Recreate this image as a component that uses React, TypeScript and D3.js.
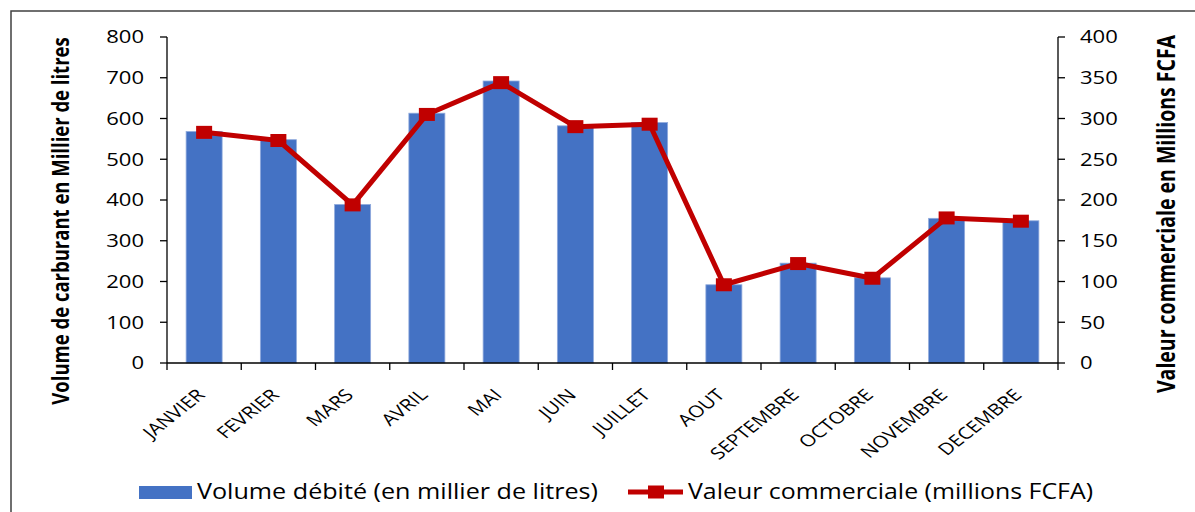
import React, { useEffect } from 'react';
import * as d3 from 'd3';

// months on the x axis
const months = [
  'JANVIER', 'FEVRIER', 'MARS', 'AVRIL', 'MAI', 'JUIN',
  'JUILLET', 'AOUT', 'SEPTEMBRE', 'OCTOBRE', 'NOVEMBRE', 'DECEMBRE',
];

// volume débité (milliers de litres), left axis
const volume = [568, 548, 389, 613, 692, 582, 590, 192, 245, 209, 355, 349];

// valeur commerciale (millions FCFA), right axis
const valeur = [283, 273, 194, 305, 344, 290, 293, 96, 122, 104, 178, 174];

const leftTicks = [0, 100, 200, 300, 400, 500, 600, 700, 800];
const rightTicks = [0, 50, 100, 150, 200, 250, 300, 350, 400];

const W = 1195;
const H = 512;
const FONT = "'Open Sans', 'Liberation Sans', sans-serif";
const BLUE = '#4472C4';
const RED = '#C00000';
// the source picture is a bit wider than tall, so text is stretched sideways
const SX = 1.26;

export default function App() {
  useEffect(() => {
    document.body.style.margin = '0';
  }, []);

  const plot = { left: 167, right: 1058, top: 37, bottom: 363 };

  const x = d3.scaleBand<string>()
    .domain(months)
    .range([plot.left, plot.right])
    .paddingInner(0.515)
    .paddingOuter(0.2575);

  const yL = d3.scaleLinear().domain([0, 800]).range([plot.bottom, plot.top]);
  const yR = d3.scaleLinear().domain([0, 400]).range([plot.bottom, plot.top]);

  const step = (plot.right - plot.left) / months.length;
  const cx = (m: string) => (x(m) as number) + x.bandwidth() / 2;

  const line = d3.line<number>()
    .x((_, i) => cx(months[i]))
    .y(d => yR(d));

  const mw = 16, mh = 13;

  return (
    <svg width={W} height={H} style={{ display: 'block', background: '#fff' }}>
      {/* outer frame */}
      <rect x={11} y={11} width={1300} height={600} fill="none" stroke="#404040" strokeWidth={1.5} />

      {/* bars */}
      {months.map((m, i) => (
        <rect
          key={m}
          x={x(m)}
          y={yL(volume[i])}
          width={x.bandwidth()}
          height={plot.bottom - yL(volume[i])}
          fill={BLUE}
          stroke="#8FAADC"
          strokeWidth={0.8}
        />
      ))}

      {/* left axis */}
      <line x1={plot.left} x2={plot.left} y1={plot.top} y2={plot.bottom} stroke="#000" strokeWidth={1.3} />
      {leftTicks.map(t => (
        <g key={'l' + t}>
          <line x1={plot.left - 7} x2={plot.left} y1={yL(t)} y2={yL(t)} stroke="#000" strokeWidth={1.3} />
          <text transform={`translate(144,${yL(t)}) scale(${SX},1)`} dy="0.36em" textAnchor="end" fontFamily={FONT} fontSize={17.5} fill="#000">{t}</text>
        </g>
      ))}

      {/* right axis */}
      <line x1={plot.right} x2={plot.right} y1={plot.top} y2={plot.bottom} stroke="#000" strokeWidth={1.3} />
      {rightTicks.map(t => (
        <g key={'r' + t}>
          <line x1={plot.right} x2={plot.right + 7} y1={yR(t)} y2={yR(t)} stroke="#000" strokeWidth={1.3} />
          <text transform={`translate(1080,${yR(t)}) scale(${SX},1)`} dy="0.36em" textAnchor="start" fontFamily={FONT} fontSize={17.5} fill="#000">{t}</text>
        </g>
      ))}

      {/* x axis */}
      <line x1={plot.left} x2={plot.right} y1={plot.bottom} y2={plot.bottom} stroke="#000" strokeWidth={1.3} />
      {d3.range(months.length + 1).map(i => (
        <line key={'xt' + i} x1={plot.left + i * step} x2={plot.left + i * step} y1={plot.bottom} y2={plot.bottom + 7} stroke="#000" strokeWidth={1.3} />
      ))}
      {months.map(m => (
        <text
          key={'xl' + m}
          transform={`translate(${cx(m) + 2},${plot.bottom + 33}) scale(${SX},1) rotate(-45)`}
          textAnchor="end"
          fontFamily={FONT}
          fontSize={16.5}
          fill="#000"
        >{m}</text>
      ))}

      {/* line series */}
      <path d={line(valeur) as string} fill="none" stroke={RED} strokeWidth={5} strokeLinejoin="round" />
      {valeur.map((v, i) => (
        <rect key={'m' + i} x={cx(months[i]) - mw / 2} y={yR(v) - mh / 2} width={mw} height={mh} fill={RED} />
      ))}

      {/* axis titles */}
      <text
        transform={`translate(69,221) rotate(-90) scale(1,${SX})`}
        textAnchor="middle"
        fontFamily={FONT}
        fontWeight="bold"
        fontSize={18.5}
        fill="#000"
      >Volume de carburant en Millier de litres</text>
      <text
        transform={`translate(1175,214) rotate(-90) scale(1,${SX})`}
        textAnchor="middle"
        fontFamily={FONT}
        fontWeight="bold"
        fontSize={19.5}
        fill="#000"
      >Valeur commerciale en Millions FCFA</text>

      {/* legend */}
      <rect x={139} y={486} width={53} height={13} fill={BLUE} />
      <text x={197} y={499} fontFamily={FONT} fontSize={22} textLength={401} lengthAdjust="spacingAndGlyphs" fill="#000">Volume débité (en millier de litres)</text>
      <line x1={628} x2={683} y1={492} y2={492} stroke={RED} strokeWidth={5} />
      <rect x={656 - mw / 2} y={492 - mh / 2} width={mw} height={mh} fill={RED} />
      <text x={688} y={499} fontFamily={FONT} fontSize={22} textLength={405} lengthAdjust="spacingAndGlyphs" fill="#000">Valeur commerciale (millions FCFA)</text>
    </svg>
  );
}
